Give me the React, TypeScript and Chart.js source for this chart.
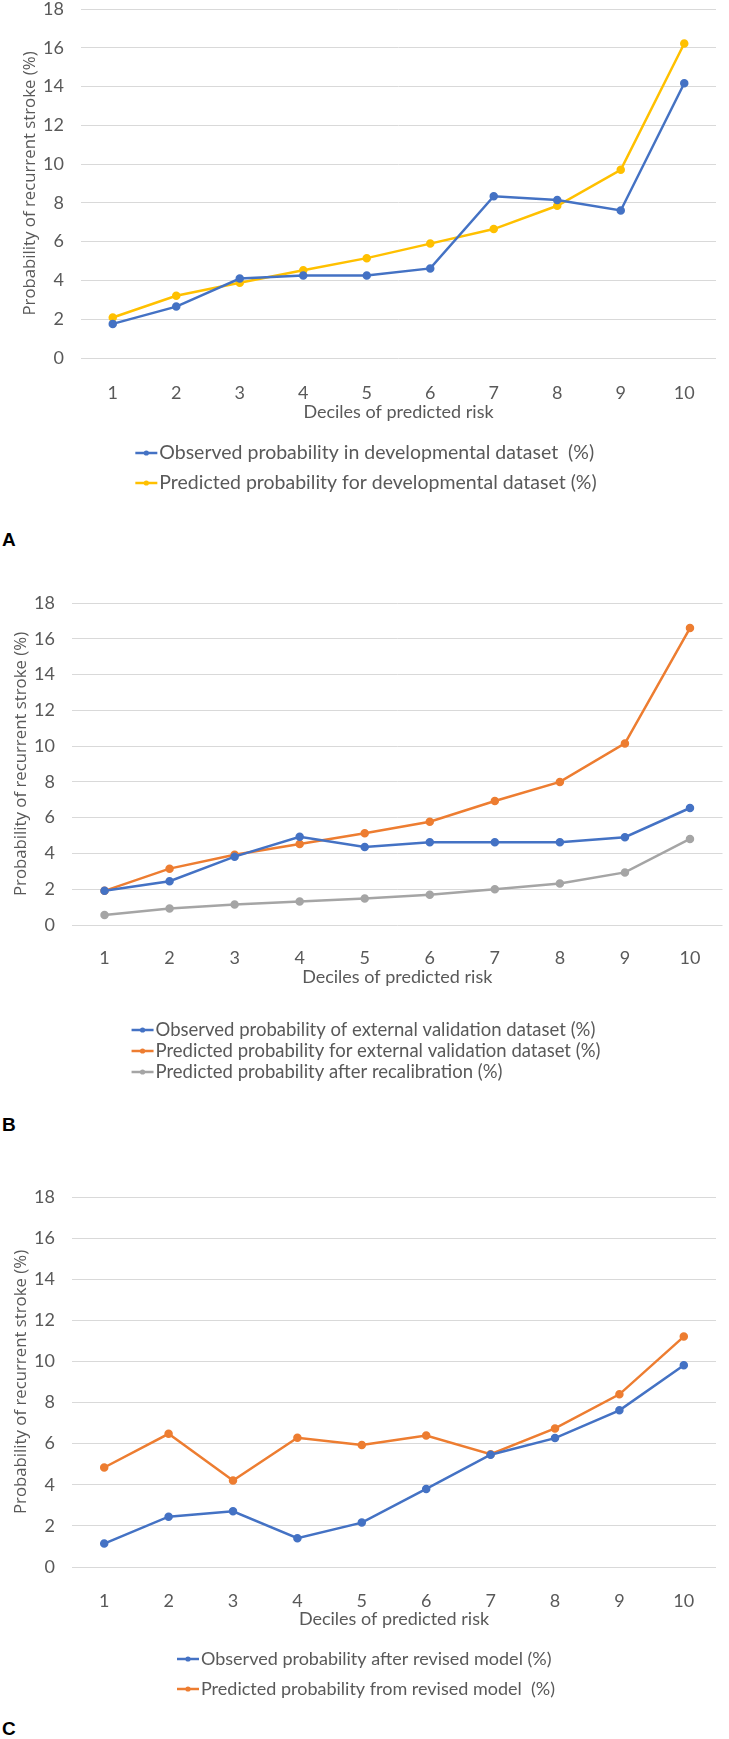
import React, { useEffect, useRef } from "react";
import { Chart, registerables } from "chart.js";

Chart.register(...registerables);

// ---------- data ----------
const deciles = ["1", "2", "3", "4", "5", "6", "7", "8", "9", "10"];

const observedDev = [1.76, 2.65, 4.1, 4.26, 4.26, 4.62, 8.34, 8.15, 7.61, 14.17];
const predictedDev = [2.09, 3.21, 3.88, 4.53, 5.15, 5.9, 6.65, 7.85, 9.71, 16.22];

const observedExt = [1.91, 2.45, 3.82, 4.93, 4.36, 4.63, 4.63, 4.63, 4.91, 6.54];
const predictedExt = [1.91, 3.15, 3.93, 4.53, 5.13, 5.77, 6.93, 8.0, 10.15, 16.6];
const recalibrated = [0.56, 0.92, 1.14, 1.31, 1.48, 1.69, 2.0, 2.32, 2.94, 4.81];

const observedRevised = [1.14, 2.45, 2.71, 1.4, 2.16, 3.8, 5.46, 6.27, 7.62, 9.81];
const predictedRevised = [4.84, 6.48, 4.21, 6.29, 5.93, 6.4, 5.49, 6.74, 8.4, 11.21];

const yMin = 0;
const yMax = 18;
const yStep = 2;

const xTitle = "Deciles of predicted risk";
const yTitle = "Probability of recurrent stroke (%)";

const labelsA = [
  "Observed probability in developmental dataset  (%)",
  "Predicted probability for developmental dataset (%)",
];
const labelsB = [
  "Observed probability of external validation dataset (%)",
  "Predicted probability for external validation dataset (%)",
  "Predicted probability after recalibration (%)",
];
const labelsC = [
  "Observed probability after revised model (%)",
  "Predicted probability from revised model  (%)",
];

// ---------- styling ----------
const BLUE = "#4472C4";
const YELLOW = "#FFC000";
const ORANGE = "#ED7D31";
const GRAY = "#A5A5A5";
const TEXT = "#595959";
const GRID = "#d9d9d9";
const FONT = "Lato, 'Open Sans', sans-serif";
const FS = 18;

const rowLegend = {
  id: "rowLegend",
  afterDraw(chart: any, _args: any, opts: any) {
    const ctx = chart.ctx;
    ctx.save();
    ctx.font = `${opts.fontSize}px ${FONT}`;
    const items = chart.data.datasets.map((d: any) => ({ text: d.label, color: d.borderColor }));
    const maxW = Math.max(...items.map((i: any) => ctx.measureText(i.text).width));
    const markerW = 24;
    const x0 = opts.centerX - (markerW + maxW) / 2;
    items.forEach((it: any, i: number) => {
      const y = opts.y0 + i * opts.dy;
      ctx.strokeStyle = it.color;
      ctx.lineWidth = 2.5;
      ctx.beginPath();
      ctx.moveTo(x0, y);
      ctx.lineTo(x0 + 22, y);
      ctx.stroke();
      ctx.fillStyle = it.color;
      ctx.beginPath();
      ctx.arc(x0 + 11, y, 2.6, 0, Math.PI * 2);
      ctx.fill();
      ctx.fillStyle = TEXT;
      ctx.textBaseline = "middle";
      ctx.textAlign = "left";
      ctx.fillText(it.text, x0 + markerW, y);
    });
    ctx.restore();
  },
};

type PanelProps = {
  top: number;
  height: number;
  series: { label: string; data: number[]; color: string }[];
  pad: { top: number; right: number; bottom: number };
  yAxisWidth: number;
  yTitlePad: number;
  xTickPad: number;
  xTitlePad: number;
  legend: { y0: number; dy: number; fontSize: number };
};

function Panel(p: PanelProps) {
  const ref = useRef<HTMLCanvasElement>(null);
  useEffect(() => {
    const chart = new Chart(ref.current as HTMLCanvasElement, {
      type: "line",
      data: {
        labels: deciles,
        datasets: p.series.map((s) => ({
          label: s.label,
          data: s.data,
          borderColor: s.color,
          backgroundColor: s.color,
          pointBackgroundColor: s.color,
          pointBorderColor: s.color,
          borderWidth: 2.5,
          pointRadius: 3,
          tension: 0,
          fill: false,
        })),
      },
      options: {
        responsive: false,
        animation: false,
        devicePixelRatio: 1,
        layout: { padding: { top: p.pad.top, right: p.pad.right, bottom: p.pad.bottom, left: 0 } },
        plugins: {
          legend: { display: false },
          tooltip: { enabled: false },
          rowLegend: { centerX: 366, y0: p.legend.y0, dy: p.legend.dy, fontSize: p.legend.fontSize },
        } as any,
        scales: {
          x: {
            type: "category",
            offset: true,
            grid: { display: false },
            border: { display: false },
            ticks: { color: TEXT, font: { family: FONT, size: FS }, padding: p.xTickPad, maxRotation: 0 },
            title: {
              display: true,
              text: xTitle,
              color: TEXT,
              font: { family: FONT, size: FS },
              padding: { top: 0, bottom: p.xTitlePad },
            },
            afterFit: (s: any) => {
              s.height = 70;
            },
          },
          y: {
            min: yMin,
            max: yMax,
            grid: { color: GRID, lineWidth: 1, drawTicks: false },
            border: { display: false },
            ticks: { stepSize: yStep, color: TEXT, font: { family: FONT, size: FS }, padding: 17 },
            title: {
              display: true,
              text: yTitle,
              color: TEXT,
              font: { family: "'Open Sans', sans-serif", size: 16.8 },
              padding: { top: p.yTitlePad, bottom: 0 },
            },
            afterFit: (s: any) => {
              s.width = p.yAxisWidth;
            },
          },
        },
      },
      plugins: [rowLegend],
    });
    return () => chart.destroy();
  }, []);
  return (
    <canvas
      ref={ref}
      width={729}
      height={p.height}
      style={{ position: "absolute", left: 0, top: p.top, width: 729, height: p.height }}
    />
  );
}

const letterStyle: React.CSSProperties = {
  position: "absolute",
  left: 2,
  fontFamily: "'Liberation Sans', Arial, sans-serif",
  fontWeight: 700,
  fontSize: 19,
  lineHeight: "20px",
  color: "#000",
};

export default function App() {
  return (
    <div
      style={{
        position: "absolute",
        left: 0,
        top: 0,
        width: 729,
        height: 1739,
        background: "#fff",
        overflow: "hidden",
      }}
    >
      <Panel
        top={-20}
        height={520}
        series={[
          { label: labelsA[0], data: observedDev, color: BLUE },
          { label: labelsA[1], data: predictedDev, color: YELLOW },
        ]}
        pad={{ top: 29, right: 13, bottom: 72 }}
        yAxisWidth={81}
        yTitlePad={19.9}
        xTickPad={16.2}
        xTitlePad={5.5}
        legend={{ y0: 473, dy: 30, fontSize: 19.5 }}
      />
      <div style={{ ...letterStyle, top: 530 }}>A</div>
      <Panel
        top={570}
        height={530}
        series={[
          { label: labelsB[0], data: observedExt, color: BLUE },
          { label: labelsB[1], data: predictedExt, color: ORANGE },
          { label: labelsB[2], data: recalibrated, color: GRAY },
        ]}
        pad={{ top: 33, right: 0, bottom: 105 }}
        yAxisWidth={72}
        yTitlePad={10.9}
        xTickPad={14.2}
        xTitlePad={7.5}
        legend={{ y0: 460, dy: 21, fontSize: 18.5 }}
      />
      <div style={{ ...letterStyle, top: 1115 }}>B</div>
      <Panel
        top={1165}
        height={545}
        series={[
          { label: labelsC[0], data: observedRevised, color: BLUE },
          { label: labelsC[1], data: predictedRevised, color: ORANGE },
        ]}
        pad={{ top: 32, right: 13, bottom: 73 }}
        yAxisWidth={72}
        yTitlePad={10.9}
        xTickPad={14.9}
        xTitlePad={7.2}
        legend={{ y0: 494, dy: 30, fontSize: 18 }}
      />
      <div style={{ ...letterStyle, top: 1719 }}>C</div>
    </div>
  );
}
